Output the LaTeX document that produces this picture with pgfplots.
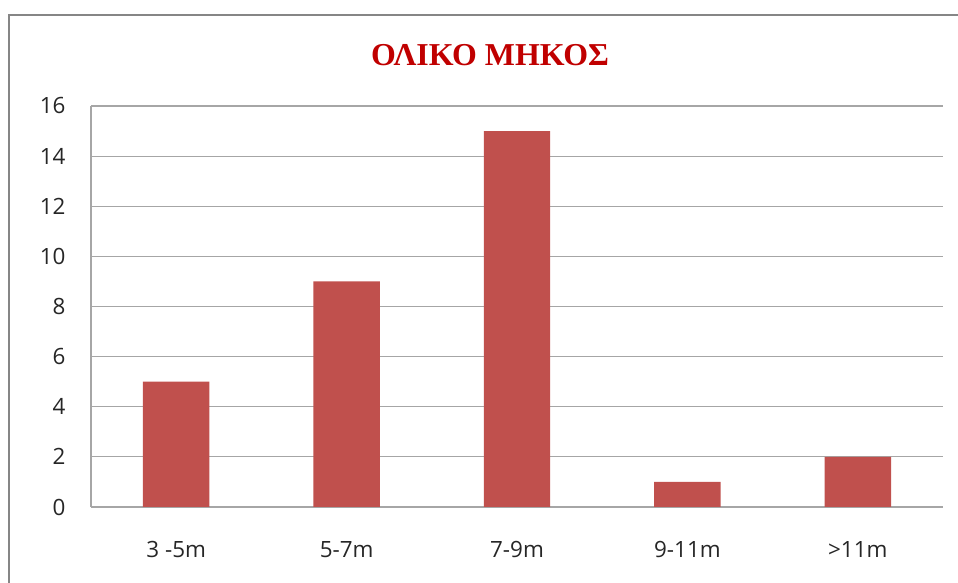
\documentclass[border=0pt]{standalone}
\usepackage{pgfplots}
\pgfplotsset{compat=1.18}
\usepackage{fontspec}
\setmainfont{Open Sans}
\newfontfamily\titlefont{Liberation Serif}
\definecolor{barred}{HTML}{C0504D}
\definecolor{gridgray}{HTML}{A6A6A6}
\definecolor{framegray}{HTML}{868686}
\definecolor{titlered}{HTML}{C00000}
\begin{document}
\begin{tikzpicture}[x=1bp,y=1bp]
\useasboundingbox (0,0) rectangle (958,583);
\draw[framegray, line width=2.2bp] (9,-5) -- (9,568) -- (965,568);
\node[font=\titlefont\bfseries\fontsize{32}{35}\selectfont, text=titlered] at (490,528) {ΟΛΙΚΟ ΜΗΚΟΣ};
\begin{axis}[
  at={(91bp,76bp)}, anchor=south west,
  scale only axis, width=852bp, height=401bp,
  xmin=-0.5, xmax=4.5, ymin=0, ymax=16,
  ytick={0,2,...,16},
  xtick={0,1,2,3,4},
  xticklabels={3 -5m,5-7m,7-9m,9-11m,>11m},
  ymajorgrids, grid style={gridgray, line width=1.2bp},
  axis line style={gridgray, line width=1.2bp},
  axis x line*=bottom, axis y line*=left,
  x axis line style={-}, y axis line style={-},
  major tick length=0pt,
  tick style={draw=none},
  ticklabel style={font=\fontsize{22.5}{26}\selectfont, text=black!85},
  /pgf/number format/assume math mode=true,
  yticklabel style={anchor=east, xshift=-22bp},
  xticklabel style={anchor=base, yshift=-51bp},
  ybar, bar width=0.39,
]
\addplot[fill=barred, draw=none] coordinates {(0,5) (1,9) (2,15) (3,1) (4,2)};
\end{axis}
\end{tikzpicture}
\end{document}
